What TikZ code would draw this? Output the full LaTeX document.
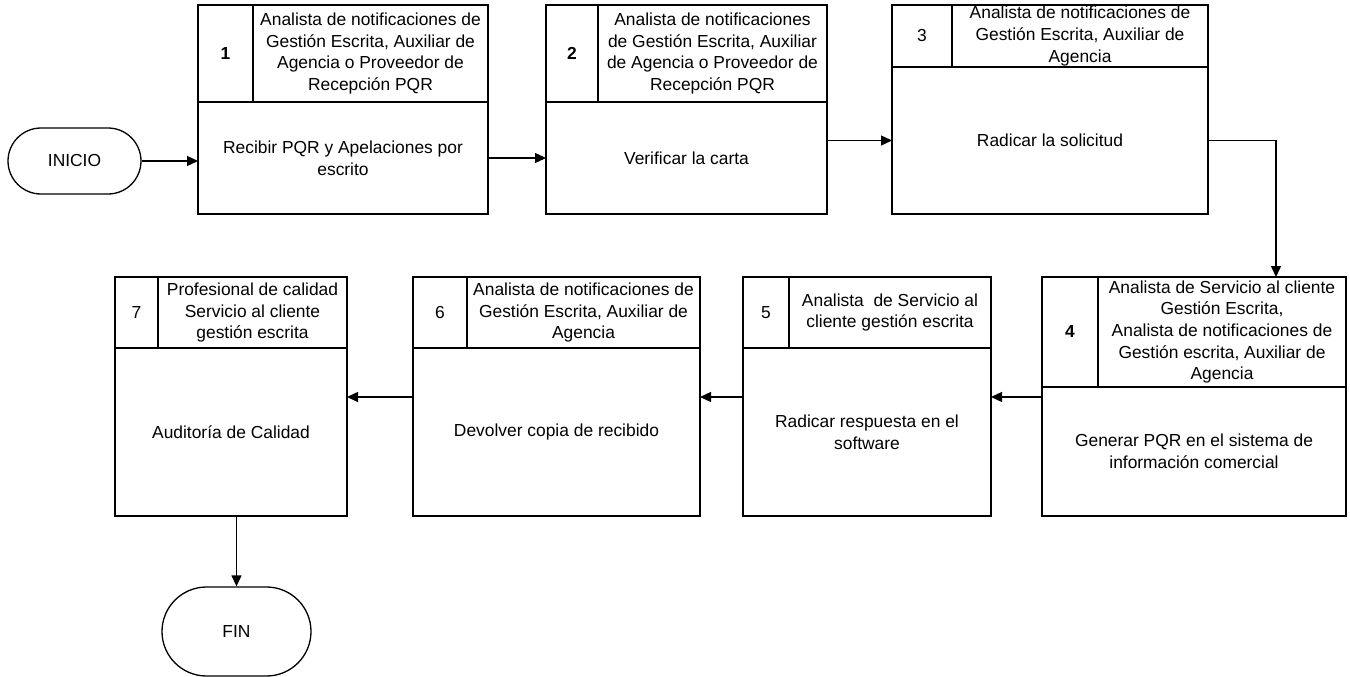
\documentclass[tikz,border=0pt]{standalone}
\usepackage{fontspec}
\setmainfont{Liberation Sans}
\usetikzlibrary{arrows.meta, positioning, shapes.misc}
\tikzset{
    cellBox/.style args={#1 #2}{
        draw, rectangle, line width=1.3pt, inner sep=0pt, outer sep=0pt,
        align=center, minimum width=#1, minimum height=#2,
        font=\fontsize{17.4}{21.7}\selectfont
    },
    termNode/.style args={#1 #2}{
        draw, rounded rectangle, line width=1.3pt, inner sep=0pt,
        minimum width=#1, minimum height=#2,
        font=\fontsize{17.4}{21.7}\selectfont
    },
    flowA/.style={-{Triangle[length=11pt,width=10pt]}, line width=1.3pt}
}

\begin{document}
\begin{tikzpicture}[x=1pt, y=-1pt]
    \useasboundingbox (0,0) rectangle (1350,677);
    % terminales
    \node[termNode=133pt 66pt] (inicio) at (74.5,161) {INICIO};
    \node[termNode=149pt 89pt] (fin) at (236.5,631.5) {FIN};
    % paso 1
    \node[cellBox=55pt 97pt, anchor=north west] (n1) at (198,5) {\textbf{1}};
    \node[cellBox=235pt 97pt, right=0pt of n1] (h1) {Analista de notificaciones de\\Gestión Escrita, Auxiliar de\\Agencia o Proveedor de\\Recepción PQR};
    \node[cellBox=290pt 112pt, anchor=north west] (b1) at (n1.south west) {Recibir PQR y Apelaciones por\\escrito};
    % paso 2
    \node[cellBox=52pt 97pt, anchor=north west] (n2) at (546,5) {\textbf{2}};
    \node[cellBox=229pt 97pt, right=0pt of n2] (h2) {Analista de notificaciones\\de Gestión Escrita, Auxiliar\\de Agencia o Proveedor de\\Recepción PQR};
    \node[cellBox=281pt 112pt, anchor=north west] (b2) at (n2.south west) {Verificar la carta};
    % paso 3
    \node[cellBox=60pt 62pt, anchor=north west] (n3) at (892,5) {3};
    \node[cellBox=256pt 62pt, right=0pt of n3] (h3) {Analista de notificaciones de\\Gestión Escrita, Auxiliar de\\Agencia};
    \node[cellBox=316pt 147pt, anchor=north west] (b3) at (n3.south west) {Radicar la solicitud};
    % paso 4
    \node[cellBox=56pt 110pt, anchor=north west] (n4) at (1042,277) {\textbf{4}};
    \node[cellBox=248pt 110pt, right=0pt of n4] (h4) {Analista de Servicio al cliente\\Gestión Escrita,\\Analista de notificaciones de\\Gestión escrita, Auxiliar de\\Agencia};
    \node[cellBox=304pt 129pt, anchor=north west] (b4) at (n4.south west) {Generar PQR en el sistema de\\información comercial};
    % paso 5
    \node[cellBox=46pt 71pt, anchor=north west] (n5) at (743,277) {5};
    \node[cellBox=202pt 71pt, right=0pt of n5] (h5) {Analista~ de Servicio al\\cliente gestión escrita};
    \node[cellBox=248pt 168pt, anchor=north west] (b5) at (n5.south west) {Radicar respuesta en el\\software};
    % paso 6
    \node[cellBox=54pt 71pt, anchor=north west] (n6) at (413,277) {6};
    \node[cellBox=233pt 71pt, right=0pt of n6] (h6) {Analista de notificaciones de\\Gestión Escrita, Auxiliar de\\Agencia};
    \node[cellBox=287pt 168pt, anchor=north west] (b6) at (n6.south west) {Devolver copia de recibido};
    % paso 7
    \node[cellBox=43pt 71pt, anchor=north west] (n7) at (115,277) {7};
    \node[cellBox=189pt 71pt, right=0pt of n7] (h7) {Profesional de calidad\\Servicio al cliente\\gestión escrita};
    \node[cellBox=232pt 168pt, anchor=north west] (b7) at (n7.south west) {Auditoría de Calidad};
    % conectores
    \coordinate (c34) at (1276,141);
    \coordinate (r2) at (0,397);
    \draw[flowA] (inicio.east) -- (inicio.east -| b1.west);
    \draw[flowA] (b1.east) -- (b2.west);
    \draw[flowA] (b3.west -| b2.east) -- (b3.west);
    \draw[flowA] (b3.east) -- (b3.east -| c34) -- (c34 |- h4.north);
    \draw[flowA] (r2 -| b4.west) -- (r2 -| b5.east);
    \draw[flowA] (r2 -| b5.west) -- (r2 -| b6.east);
    \draw[flowA] (r2 -| b6.west) -- (r2 -| b7.east);
    \draw[flowA] (fin.north |- b7.south) -- (fin.north);
\end{tikzpicture}
\end{document}
